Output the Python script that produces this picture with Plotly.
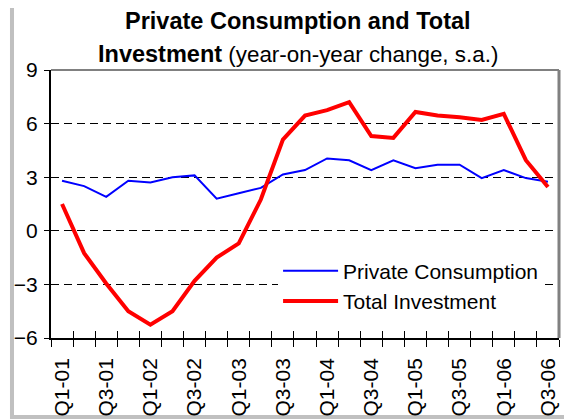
import plotly.graph_objects as go

quarters = ["Q1-01", "Q2-01", "Q3-01", "Q4-01",
            "Q1-02", "Q2-02", "Q3-02", "Q4-02",
            "Q1-03", "Q2-03", "Q3-03", "Q4-03",
            "Q1-04", "Q2-04", "Q3-04", "Q4-04",
            "Q1-05", "Q2-05", "Q3-05", "Q4-05",
            "Q1-06", "Q2-06", "Q3-06"]
tick_labels = [q if i % 2 == 0 else "" for i, q in enumerate(quarters)]

private_consumption = [2.8, 2.5, 1.9, 2.8, 2.7, 3.0, 3.1, 1.8, 2.1, 2.4, 3.15, 3.4,
                       4.05, 3.95, 3.4, 3.95, 3.5, 3.7, 3.7, 2.95, 3.4, 2.95, 2.75]
total_investment = [1.5, -1.25, -2.95, -4.5, -5.25, -4.5, -2.8, -1.5, -0.7, 1.75, 5.1, 6.45,
                    6.75, 7.2, 5.3, 5.2, 6.65, 6.45, 6.35, 6.2, 6.55, 3.95, 2.45]
y_ticks = [-6, -3, 0, 3, 6, 9]
title_line1 = "<span style='font-size:23.5px'><b>Private Consumption and Total</b></span>"
title_line2 = "<span style='font-size:23.5px'><b>Investment</b></span> (year-on-year change, s.a.)"

FONT = "Liberation Sans, Arial, sans-serif"

fig = go.Figure()
fig.add_trace(go.Scatter(x=quarters, y=private_consumption, mode="lines",
                         name="Private Consumption",
                         line=dict(color="#0000FF", width=2)))
fig.add_trace(go.Scatter(x=quarters, y=total_investment, mode="lines",
                         name="Total Investment", xaxis="x2", yaxis="y2",
                         line=dict(color="#FF0000", width=4)))

fig.update_layout(
    width=572, height=419,
    margin=dict(l=43, r=21, t=62, b=89, autoexpand=False),
    paper_bgcolor="white", plot_bgcolor="white",
    font=dict(family=FONT, size=21, color="black"),
    showlegend=True,
    legend=dict(x=0.447, y=0.326, xref="paper", yref="paper",
                xanchor="left", yanchor="top", itemwidth=55,
                bgcolor="white", borderwidth=0,
                font=dict(size=21, family=FONT, color="black"),
                tracegroupgap=0),
    xaxis=dict(type="category", categoryorder="array", categoryarray=quarters,
               range=[-0.5, len(quarters) - 0.5], automargin=False,
               tickmode="array", tickvals=quarters, ticktext=tick_labels,
               tickson="boundaries", ticks="outside", ticklen=7, tickwidth=1,
               tickcolor="black", tickangle=-90,
               showline=True, linecolor="black", linewidth=1.5,
               showgrid=False, zeroline=False, ticklabelstandoff=10),
    xaxis2=dict(type="category", overlaying="x", matches="x", side="bottom",
                categoryorder="array", categoryarray=quarters,
                range=[-0.5, len(quarters) - 0.5], automargin=False,
                tickmode="array", tickvals=quarters,
                tickson="boundaries", ticks="inside", ticklen=7, tickwidth=1,
                tickcolor="black", showticklabels=False,
                showline=False, showgrid=False, zeroline=False),
    yaxis=dict(range=[-6, 9], tickmode="array", tickvals=y_ticks, automargin=False,
               ticks="outside", ticklen=5, tickwidth=1, tickcolor="black",
               showline=True, linecolor="black", linewidth=2,
               showgrid=True, gridcolor="black", gridwidth=1, griddash="8px,5px",
               zeroline=False, ticklabelstandoff=2),
    yaxis2=dict(range=[-6, 9], overlaying="y", matches="y", side="left",
                tickmode="array", tickvals=y_ticks, automargin=False,
                ticks="inside", ticklen=5, tickwidth=1, tickcolor="black",
                showticklabels=False, showline=False, showgrid=False, zeroline=False),
    annotations=[
        dict(text=title_line1, xref="paper", yref="paper", x=0.486, y=1.183,
             xanchor="center", yanchor="middle", showarrow=False,
             font=dict(size=22.4, family=FONT, color="black")),
        dict(text=title_line2, xref="paper", yref="paper", x=0.486, y=1.0597,
             xanchor="center", yanchor="middle", showarrow=False,
             font=dict(size=22.4, family=FONT, color="black")),
    ],
    shapes=[
        dict(type="line", xref="paper", yref="paper", x0=0.0, x1=1.0, y0=1.0, y1=1.0,
             line=dict(color="#808080", width=2), layer="above"),
        dict(type="line", xref="paper", yref="paper", x0=1.0, x1=1.0, y0=0.0, y1=1.0,
             line=dict(color="#808080", width=3), layer="above"),
        dict(type="rect", xref="paper", yref="paper",
             x0=-0.0768, x1=1.04, y0=-0.2948, y1=1.2407,
             line=dict(color="#C0C0C0", width=4), fillcolor="rgba(0,0,0,0)", layer="below"),
    ],
)

fig.write_html("out.html")
